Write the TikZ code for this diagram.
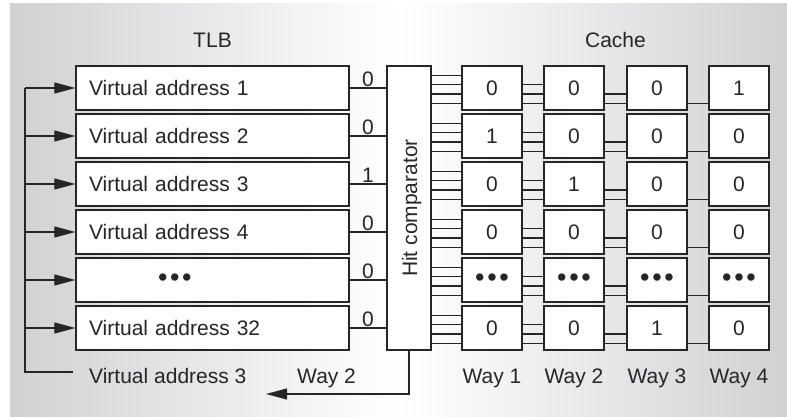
\documentclass[tikz,border=0pt]{standalone}
\usepackage{fontspec}
\setmainfont{Liberation Sans}
\usetikzlibrary{arrows.meta,calc}
\definecolor{ink}{HTML}{262626}
\definecolor{bgside}{HTML}{D0D1D3}

\newcommand{\tridots}{{\fontsize{27}{27}\selectfont\textbullet\hspace{2.6pt}\textbullet\hspace{2.6pt}\textbullet}}

\begin{document}
\begin{tikzpicture}[x=1pt,y=-1pt,
  font=\fontsize{21}{25}\selectfont, text=ink,
  frame/.style={draw=ink, fill=white, line width=1.4pt},
  cell/.style={frame, minimum width=60pt, minimum height=44pt, inner sep=0pt},
  tlbbox/.style={frame, minimum height=44pt, text width=247pt, inner xsep=13pt, inner ysep=0pt, align=left},
  wire/.style={draw=ink, line width=1.1pt},
  arr/.style={wire, -{Triangle[length=21pt,width=11pt]}},
  bitlbl/.style={inner sep=1pt, above},
  plain/.style={inner sep=0pt}
]
\useasboundingbox (0,0) rectangle (787,417);
% panel background
\shade[left color=bgside, right color=bgside, middle color=white] (10,4) rectangle (787,417);

% TLB entries
\foreach \i/\y/\txt in {1/88/Virtual address 1, 2/136/Virtual address 2, 3/184/Virtual address 3,
    4/232/Virtual address 4, 5/280/{\hspace*{69pt}\tridots}, 6/328/Virtual address 32}
  \node[tlbbox] (tlb\i) at (212.5,\y) {\txt};

% hit comparator
\node[frame, minimum width=44pt, minimum height=284pt, inner sep=0pt] (comp) at (409,208) {};
\node[plain, rotate=90, anchor=base] (hitlbl) at ($(comp.center)+(8,0)$) {Hit comparator};

% cache ways
\foreach \i/\y/\va/\vb/\vc/\vd in {1/88/0/0/0/1, 2/136/1/0/0/0, 3/184/0/1/0/0, 4/232/0/0/0/0,
    5/280/\tridots/\tridots/\tridots/\tridots, 6/328/0/0/1/0} {
  \node[cell] (c\i1) at (492,\y) {\va};
  \node[cell] (c\i2) at (574,\y) {\vb};
  \node[cell] (c\i3) at (657,\y) {\vc};
  \node[cell] (c\i4) at (739,\y) {\vd};
}

% TLB match lines into the comparator
\foreach \i/\b in {1/0, 2/0, 3/1, 4/0, 5/0, 6/0}
  \draw[wire] (tlb\i.east) -- node[bitlbl] (bit\i) {\b} (comp.west |- tlb\i.east);

% buses between the comparator and the ways
\foreach \i in {1,...,6} {
  \foreach \o in {10,19.3,28.7,38} {
    \path ($(c\i1.north west)+(0,\o)$) coordinate (p);
    \draw[wire] (comp.east |- p) -- (p);
  }
  \foreach \o in {19.3,28.7,38}
    \draw[wire] ($(c\i1.north east)+(0,\o)$) -- ($(c\i2.north west)+(0,\o)$);
  \foreach \o in {28.7,38}
    \draw[wire] ($(c\i2.north east)+(0,\o)$) -- ($(c\i3.north west)+(0,\o)$);
  \draw[wire] ($(c\i3.north east)+(0,38)$) -- ($(c\i4.north west)+(0,38)$);
}

% headings
\coordinate (hdr) at (0,48);
\node[plain, anchor=base] (tlbhdr) at (tlb1.center |- hdr) {TLB};
\path ($(c11.north west)!0.5!(c14.north east)$) coordinate (cmid);
\node[plain, anchor=base] (cachehdr) at (cmid |- hdr) {Cache};

% bottom labels
\node[plain, anchor=base west] (vaout) at (89,383) {Virtual address 3};
\node[plain, anchor=base west] (wayout) at (297,383) {Way 2};
\foreach \j in {1,...,4}
  \node[plain, anchor=base] (way\j) at (c6\j.center |- wayout.base) {Way \j};

% feedback of the virtual address into every TLB entry
\coordinate (fbc) at (25,372);
\coordinate (fbe) at (73,372);
\draw[wire] (fbe) -- (fbc) -- (fbc |- tlb1.west);
\foreach \i in {1,...,6}
  \draw[arr] (fbc |- tlb\i.west) -- (tlb\i.west);

% way select output
\coordinate (wtip) at (266,394);
\draw[arr] (comp.south) |- (wtip);
\end{tikzpicture}
\end{document}
